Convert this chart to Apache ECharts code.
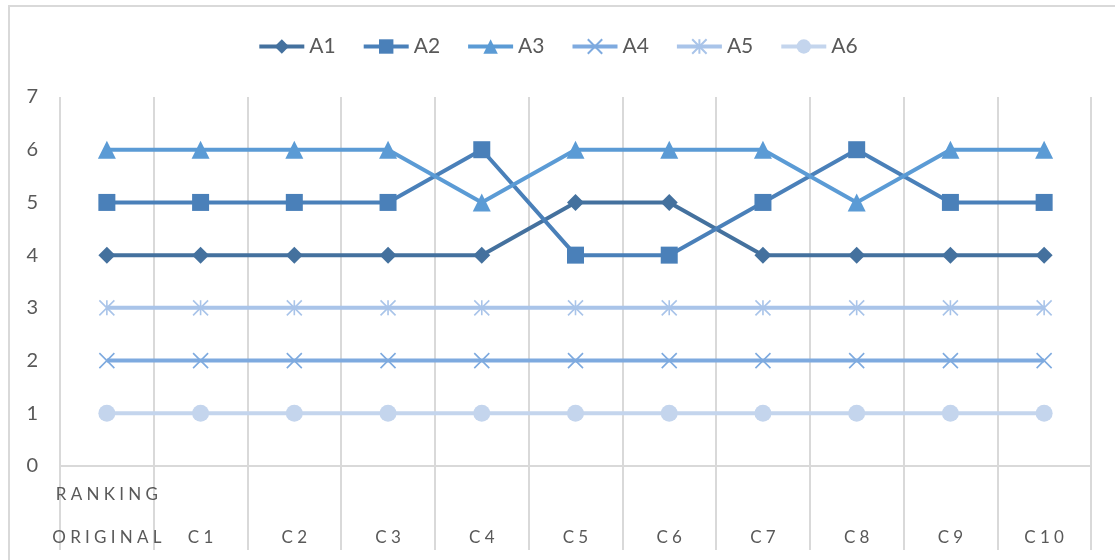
<!DOCTYPE html>
<html>
<head>
<meta charset="utf-8">
<script src="https://cdn.jsdelivr.net/npm/echarts@6/dist/echarts.min.js"></script>
<style>
  html, body { margin: 0; padding: 0; background: #fff; }
  #chart { width: 1115px; height: 560px; }
</style>
</head>
<body>
<div id="chart"></div>
<script>
// categories along the x axis
const categories = ['RANKING ORIGINAL', 'C1', 'C2', 'C3', 'C4', 'C5', 'C6', 'C7', 'C8', 'C9', 'C10']
// ranking values per series
const a1 = [4, 4, 4, 4, 4, 5, 5, 4, 4, 4, 4]
const a2 = [5, 5, 5, 5, 6, 4, 4, 5, 6, 5, 5]
const a3 = [6, 6, 6, 6, 5, 6, 6, 6, 5, 6, 6]
const a4 = [2, 2, 2, 2, 2, 2, 2, 2, 2, 2, 2]
const a5 = [3, 3, 3, 3, 3, 3, 3, 3, 3, 3, 3]
const a6 = [1, 1, 1, 1, 1, 1, 1, 1, 1, 1, 1]
const yTicks = [0, 1, 2, 3, 4, 5, 6, 7]

const FONT = 'Lato, "Open Sans", sans-serif'
const SP = '\u2005'
const spaced = s => s.split('').join(SP)

const X_PATH = 'path://M0,0L10,10M10,0L0,10'
const STAR_PATH = 'path://M0,0L10,10M10,0L0,10M5,0L5,10'

function makeSeries (name, data, color, symbol, size, stroke) {
  return {
    name: name,
    type: 'line',
    data: data,
    symbol: symbol,
    symbolSize: size,
    showSymbol: true,
    lineStyle: { color: color, width: 4 },
    itemStyle: stroke
      ? { color: color, borderColor: color, borderWidth: 1.6 }
      : { color: color },
    emphasis: { disabled: true },
    animation: false
  }
}

const chart = echarts.init(document.getElementById('chart'))
chart.setOption({
  animation: false,
  textStyle: { fontFamily: FONT },
  graphic: [{
    type: 'rect',
    shape: { x: 9, y: 6, width: 1120, height: 570 },
    style: { fill: 'none', stroke: '#d9d9d9', lineWidth: 2 },
    silent: true
  }],
  legend: {
    top: 31,
    left: 'center',
    itemWidth: 45,
    itemHeight: 18,
    itemGap: 26,
    lineStyle: { width: 4 },
    textStyle: { fontSize: 21, color: '#595959', fontFamily: FONT },
    data: ['A1', 'A2', 'A3', 'A4', 'A5', 'A6']
  },
  grid: { left: 60, right: 24, top: 97, bottom: 94, outerBoundsMode: 'none' },
  xAxis: {
    type: 'category',
    data: categories,
    boundaryGap: true,
    axisLine: { lineStyle: { color: '#d9d9d9', width: 2 } },
    axisTick: { show: true, length: 84, lineStyle: { color: '#d9d9d9', width: 2 } },
    splitLine: { show: true, lineStyle: { color: '#d9d9d9', width: 2 } },
    axisLabel: {
      interval: 0,
      margin: 7,
      fontSize: 17,
      lineHeight: 43,
      color: '#595959',
      fontFamily: FONT,
      formatter: function (v) {
        const parts = v.split(' ')
        if (parts.length > 1) return parts.map(spaced).join('\n')
        return '\n' + spaced(v)
      }
    }
  },
  yAxis: {
    type: 'value',
    min: yTicks[0],
    max: yTicks[yTicks.length - 1],
    interval: 1,
    axisLine: { show: false },
    axisTick: { show: false },
    splitLine: { show: false },
    axisLabel: { margin: 22, fontSize: 20, color: '#595959', fontFamily: FONT }
  },
  series: [
    makeSeries('A1', a1, '#44719e', 'diamond', 17, false),
    makeSeries('A2', a2, '#4a80b9', 'rect', 17, false),
    makeSeries('A3', a3, '#5b9bd5', 'triangle', 18, false),
    makeSeries('A4', a4, '#7eaadf', X_PATH, 15, true),
    makeSeries('A5', a5, '#a9c4e9', STAR_PATH, 15, true),
    makeSeries('A6', a6, '#c4d5ed', 'circle', 17, false)
  ]
})
</script>
</body>
</html>
